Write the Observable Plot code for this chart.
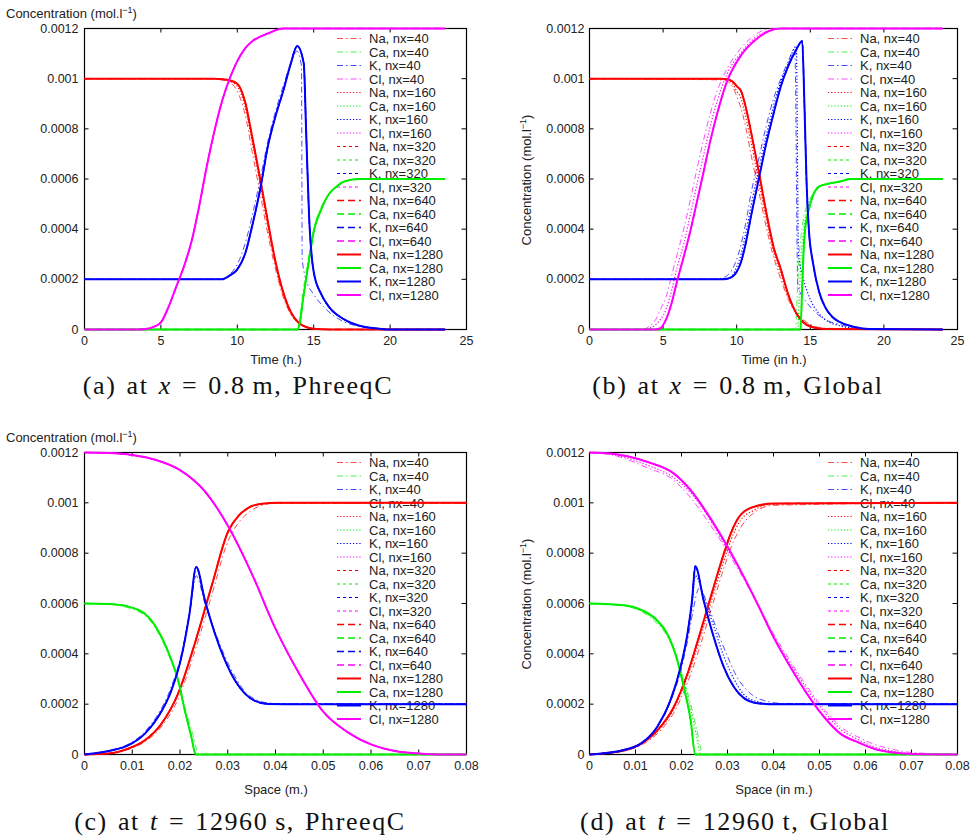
<!DOCTYPE html>
<html><head><meta charset="utf-8">
<script src="https://cdn.jsdelivr.net/npm/d3@7"></script>
<script src="https://cdn.jsdelivr.net/npm/@observablehq/plot@0.6"></script>
<style>
html,body{margin:0;padding:0;background:#fff;}
#wrap{position:relative;width:973px;height:837px;overflow:hidden;background:#fff;font-family:"Liberation Sans",Arial,sans-serif;color:#222;}
.pl{position:absolute;}
.lbl{position:absolute;font-size:13px;white-space:nowrap;transform:translate(-50%,-50%);}
.ylab{position:absolute;font-size:13px;white-space:nowrap;transform:translate(0,-50%);}
.rot{position:absolute;font-size:13px;white-space:nowrap;transform:translate(-50%,-50%) rotate(-90deg);}
sup{font-size:9px;vertical-align:5px;line-height:0;}
.cap{position:absolute;font-family:"Liberation Serif","Times New Roman",serif;font-size:26px;white-space:nowrap;transform:translate(-50%,-50%);letter-spacing:1.6px;word-spacing:2px;color:#111;}
</style></head><body><div id="wrap"></div>
<script>
// ---------- tick values / labels ----------
const yTicks = [0, 0.0002, 0.0004, 0.0006, 0.0008, 0.001, 0.0012];
const yTickLabels = ["0", "0.0002", "0.0004", "0.0006", "0.0008", "0.001", "0.0012"];
const timeTicks = [0, 5, 10, 15, 20, 25];
const timeTickLabels = ["0", "5", "10", "15", "20", "25"];
const spaceTicks = [0, 0.01, 0.02, 0.03, 0.04, 0.05, 0.06, 0.07, 0.08];
const spaceTickLabels = ["0", "0.01", "0.02", "0.03", "0.04", "0.05", "0.06", "0.07", "0.08"];

const species = ["Na", "Ca", "K", "Cl"];
const nxList = [40, 160, 320, 640, 1280];

// ---------- panel (a): time, PhreeqC ----------
const a_Na_x = [0,8.5,9,9.5,10,10.5,11,11.5,12,12.5,13,13.5,14,14.5,15,16,23.6];
const a_Na_1280 = [0.001,0.001,0.000998,0.000993,0.00098,0.00091,0.00076,0.0006,0.00043,0.00027,0.00015,0.00007,0.000028,0.00001,0.000003,0,0];
const a_Na_40 = [0.001,0.001,0.000995,0.000985,0.00095,0.00086,0.0007,0.00054,0.00038,0.00024,0.00013,0.00006,0.000025,0.000009,0.000003,0,0];
const a_Na_160 = [0.001,0.001,0.000997,0.00099,0.00097,0.00089,0.00074,0.00058,0.00041,0.00026,0.00014,0.000065,0.000026,0.00001,0.000003,0,0];
const a_Ca_x = [0,13.95,14.1,14.3,14.5,14.7,15,15.5,16,16.5,17,18,23.6];
const a_Ca_1280 = [0,0,0.00003,0.00012,0.0002,0.00028,0.00039,0.00048,0.00054,0.00057,0.00059,0.0006,0.0006];
const a_Ca_40 = [0,0,0.00005,0.00015,0.00023,0.0003,0.0004,0.00049,0.00054,0.00057,0.00059,0.0006,0.0006];
const a_K_x = [0,9,9.5,10,10.5,11,11.5,12,12.5,13,13.5,13.92,14.35,14.5,14.7,15,15.5,16,17,18,19,20,23.6];
const a_K_1280 = [0.0002,0.0002,0.000215,0.00024,0.0003,0.00042,0.00056,0.00073,0.00085,0.00095,0.00106,0.00113,0.00106,0.0008,0.00045,0.00023,0.00014,0.00009,0.00004,0.000015,0.000005,0,0];
const a_K40_x = [0,9,9.5,10,10.5,11,11.5,12,12.5,13,13.5,13.9,14.2,14.25,14.5,15,15.5,16,17,18,19,20,23.6];
const a_K_40 = [0.0002,0.0002,0.00022,0.00026,0.00034,0.00046,0.0006,0.00075,0.00087,0.00097,0.00106,0.00111,0.00105,0.00028,0.0002,0.00014,0.0001,0.00007,0.00003,0.000012,0.000004,0,0];
const a_Cl_x = [0,3.5,4,4.5,5,5.5,6,6.5,7,7.5,8,8.5,9,9.5,10,10.5,11,12,13,23.6];
const a_Cl_1280 = [0,0,0.000002,0.00001,0.000028,0.00009,0.00017,0.00025,0.00035,0.00049,0.00065,0.00079,0.00091,0.001,0.00107,0.00112,0.00115,0.00118,0.0012,0.0012];

// ---------- panel (b): time, Global ----------
const b_Na_x = [0,9,9.35,9.7,10,10.3,10.6,11,11.5,12,12.5,13,13.5,14,14.5,15,16,24];
const b_Na_1280 = [0.001,0.001,0.000998,0.00099,0.00097,0.00095,0.00089,0.00078,0.00063,0.00047,0.00033,0.00024,0.00014,0.00007,0.00003,0.000012,0.000002,0];
const b_Na_40 = [0.001,0.000995,0.00099,0.00097,0.00093,0.00088,0.00081,0.00069,0.00055,0.00041,0.00029,0.0002,0.00012,0.00007,0.00004,0.00002,0.000005,0];
const b_Na_160 = [0.001,0.000998,0.000995,0.00098,0.00095,0.00092,0.00085,0.00074,0.00059,0.00044,0.00031,0.00022,0.00013,0.00007,0.000035,0.000015,0.000003,0];
const b_Ca_x = [0,14.33,14.45,14.54,14.65,14.79,15,15.22,15.6,16.15,17,17.73,24];
const b_Ca_1280 = [0,0,0.00017,0.00031,0.0004,0.00045,0.0005,0.00054,0.00057,0.00058,0.00059,0.0006,0.0006];
const b_Ca40_x = [0,14.0,14.1,14.2,14.35,14.5,14.8,15.2,15.6,16.2,17,18,24];
const b_Ca_40 = [0,0,0.00012,0.00025,0.00036,0.00043,0.0005,0.00054,0.00057,0.00058,0.00059,0.0006,0.0006];
const b_Ca160_x = [0,14.15,14.25,14.35,14.5,14.65,14.9,15.2,15.6,16.2,17,18,24];
const b_Ca_160 = [0,0,0.00013,0.00027,0.00037,0.00044,0.0005,0.00054,0.00057,0.00058,0.00059,0.0006,0.0006];
const b_K_x = [0,9,9.35,9.7,10,10.3,10.6,11,11.5,12,12.5,13,13.5,14,14.45,14.6,14.75,14.9,15.2,15.6,16,16.5,17,18,19,24];
const b_K_1280 = [0.0002,0.0002,0.000202,0.00021,0.00023,0.00027,0.00034,0.00046,0.0006,0.00074,0.00086,0.00097,0.00105,0.00111,0.00115,0.0009,0.00058,0.0004,0.00026,0.00015,0.00009,0.00005,0.00003,0.00001,0.000002,0];
const b_K40_x = [0,8.5,9,9.35,9.7,10,10.3,10.6,11,11.5,12,12.5,13,13.5,13.95,14.15,14.3,14.6,15,15.5,16,17,18,19,20,24];
const b_K_40 = [0.0002,0.0002,0.000205,0.000215,0.00024,0.00028,0.00034,0.00042,0.00055,0.00068,0.00081,0.00092,0.001,0.00107,0.00112,0.00018,0.00015,0.00012,0.00009,0.00006,0.00004,0.00002,0.000008,0.000002,0,0];
const b_K160_x = [0,9,9.35,9.7,10,10.3,10.6,11,11.5,12,12.5,13,13.5,14.05,14.2,14.5,15,15.5,16,17,18,19,24];
const b_K_160 = [0.0002,0.0002,0.000203,0.000215,0.00025,0.0003,0.00038,0.0005,0.00064,0.00077,0.00089,0.00099,0.00106,0.00113,0.0003,0.00021,0.00012,0.00007,0.00004,0.000015,0.000005,0,0];
const b_Cl_x = [0,4,4.5,4.82,5.2,5.6,5.96,6.4,6.86,7.3,7.77,8.2,8.67,9.35,10.26,11.39,12.2,12.98,24];
const b_Cl_1280 = [0,0,0,0.000005,0.00004,0.00011,0.000195,0.00029,0.000395,0.00051,0.000634,0.00075,0.00086,0.00099,0.00109,0.00116,0.00119,0.0012,0.0012];
const b_Cl40_x = [0,3.6,4,4.5,4.82,5.2,5.6,5.96,6.4,6.86,7.3,7.77,8.2,8.67,9.35,10.26,11.39,12.2,12.98,24];
const b_Cl_40 = [0,0,0.00001,0.00004,0.00008,0.00013,0.00022,0.0003,0.0004,0.00052,0.00064,0.00076,0.00086,0.00095,0.00104,0.00112,0.00118,0.0012,0.0012,0.0012];
const b_Cl_160 = [0,0,0.000003,0.00002,0.00004,0.00008,0.00016,0.00025,0.00034,0.00046,0.00058,0.0007,0.00081,0.00091,0.00102,0.0011,0.00117,0.00119,0.0012,0.0012];

// ---------- panel (c): space, PhreeqC ----------
const c_Na_x = [0,0.005,0.0091,0.0126,0.0161,0.0196,0.0231,0.0266,0.0301,0.0322,0.0343,0.0371,0.0406,0.08];
const c_Na_1280 = [0,0.000004,0.000023,0.000056,0.000122,0.000242,0.000441,0.000668,0.000887,0.000947,0.00098,0.000996,0.001,0.001];
const c_Na_40 = [0,0.000004,0.00002,0.00005,0.00011,0.00022,0.00041,0.00063,0.00085,0.00092,0.00096,0.00099,0.001,0.001];
const c_Ca_x = [0,0.005,0.0091,0.0133,0.0161,0.0182,0.0196,0.021,0.0224,0.0233,0.08];
const c_Ca_1280 = [0.0006,0.000598,0.000588,0.000548,0.000468,0.000375,0.000295,0.000176,0.000069,0,0];
const c_Ca40_x = [0,0.005,0.0091,0.0133,0.0161,0.0182,0.0196,0.021,0.0224,0.0241,0.08];
const c_Ca_40 = [0.0006,0.000597,0.000583,0.00054,0.00046,0.00037,0.0003,0.00019,0.0001,0,0];
const c_K_x = [0,0.0056,0.0091,0.0126,0.0154,0.0182,0.0203,0.022,0.0234,0.0252,0.0273,0.0294,0.0315,0.0336,0.0357,0.0385,0.0441,0.08];
const c_K_1280 = [0,0.000016,0.000036,0.000082,0.000149,0.000255,0.000388,0.000561,0.000745,0.000614,0.000481,0.000375,0.000295,0.000242,0.000213,0.000201,0.0002,0.0002];
const c_K_40 = [0,0.000018,0.00004,0.00009,0.00016,0.00027,0.0004,0.00056,0.00071,0.0006,0.00049,0.00039,0.00031,0.00025,0.00022,0.000205,0.0002,0.0002];
const c_Cl_x = [0,0.005,0.01,0.015,0.02,0.025,0.03,0.035,0.04,0.045,0.05,0.055,0.06,0.065,0.07,0.075,0.08];
const c_Cl_1280 = [0.0012,0.001198,0.00119,0.00117,0.00113,0.00105,0.00091,0.00072,0.0005,0.00032,0.00017,0.00009,0.00004,0.000014,0.000004,0,0];

// ---------- panel (d): space, Global ----------
const d_Na_x = [0,0.0075,0.0111,0.0147,0.0183,0.0213,0.0242,0.027,0.0292,0.0307,0.0328,0.0357,0.04,0.08];
const d_Na_1280 = [0,0.000016,0.000042,0.000095,0.000188,0.000321,0.000493,0.000666,0.000798,0.000878,0.000951,0.000984,0.000997,0.001];
const d_Na_40 = [0,0.000014,0.000036,0.000082,0.000165,0.000285,0.00044,0.00061,0.00074,0.00082,0.0009,0.00096,0.00099,0.001];
const d_Na_160 = [0,0.000015,0.00004,0.00009,0.00018,0.00031,0.00047,0.00064,0.00077,0.00085,0.00093,0.00097,0.000995,0.001];
const d_Ca_x = [0,0.0075,0.0111,0.0147,0.0169,0.0191,0.0205,0.022,0.023,0.08];
const d_Ca_1280 = [0.0006,0.000593,0.000576,0.000533,0.00048,0.000374,0.000268,0.000135,0,0];
const d_Ca40_x = [0,0.0075,0.0111,0.0147,0.0169,0.0191,0.0205,0.022,0.0233,0.0247,0.08];
const d_Ca_40 = [0.0006,0.00059,0.00057,0.00052,0.00047,0.00038,0.0003,0.0002,0.0001,0,0];
const d_Ca160_x = [0,0.0075,0.0111,0.0147,0.0169,0.0191,0.0205,0.022,0.0232,0.0242,0.08];
const d_Ca_160 = [0.0006,0.000592,0.000573,0.000527,0.000475,0.000376,0.00029,0.00018,0.00008,0,0];
const d_K_x = [0,0.0075,0.0111,0.0147,0.0176,0.0198,0.0213,0.0223,0.023,0.0248,0.027,0.0292,0.0314,0.0335,0.0365,0.04,0.08];
const d_K_1280 = [0,0.000018,0.000042,0.000109,0.000215,0.000347,0.00048,0.000613,0.000748,0.000613,0.000467,0.000347,0.000268,0.000225,0.000204,0.0002,0.0002];
const d_K_160 = [0,0.00002,0.000045,0.00011,0.00022,0.00035,0.00048,0.0006,0.00071,0.00063,0.00051,0.00039,0.0003,0.00024,0.00021,0.000201,0.0002];
const d_K40_x = [0,0.0075,0.0111,0.0147,0.0176,0.0198,0.0213,0.0225,0.0238,0.026,0.028,0.03,0.032,0.034,0.037,0.042,0.08];
const d_K_40 = [0,0.00002,0.000045,0.00011,0.00021,0.00033,0.00045,0.00057,0.00066,0.00058,0.00048,0.00039,0.00031,0.00026,0.00022,0.000203,0.0002];
const d_Cl_x = [0,0.005,0.0125,0.0183,0.022,0.0256,0.0292,0.0328,0.0365,0.04,0.0437,0.0473,0.051,0.0546,0.0583,0.062,0.066,0.07,0.08];
const d_Cl_1280 = [0.0012,0.001195,0.001163,0.001117,0.00105,0.000958,0.000851,0.000732,0.000599,0.000467,0.000347,0.000241,0.000149,0.000082,0.000049,0.000022,0.000008,0.000002,0];
const d_Cl_40 = [0.0012,0.00119,0.00114,0.00109,0.00102,0.00093,0.00083,0.00072,0.0006,0.00048,0.00037,0.00027,0.00018,0.00011,0.00007,0.00004,0.00002,0.000008,0.000001];
const d_Cl_160 = [0.0012,0.001192,0.00115,0.0011,0.00104,0.00095,0.00084,0.00073,0.0006,0.00047,0.00036,0.00026,0.00017,0.0001,0.00006,0.00003,0.000013,0.000004,0];

// ---------- which arrays each curve uses ----------
function same(x, y) { return {40:[x,y],160:[x,y],320:[x,y],640:[x,y],1280:[x,y]}; }
const seriesA = {
  Na: {...same(a_Na_x, a_Na_1280), 40:[a_Na_x,a_Na_40], 160:[a_Na_x,a_Na_160]},
  Ca: {...same(a_Ca_x, a_Ca_1280), 40:[a_Ca_x,a_Ca_40]},
  K:  {...same(a_K_x, a_K_1280), 40:[a_K40_x,a_K_40]},
  Cl: same(a_Cl_x, a_Cl_1280)
};
const seriesB = {
  Na: {...same(b_Na_x, b_Na_1280), 40:[b_Na_x,b_Na_40], 160:[b_Na_x,b_Na_160]},
  Ca: {...same(b_Ca_x, b_Ca_1280), 40:[b_Ca40_x,b_Ca_40], 160:[b_Ca160_x,b_Ca_160]},
  K:  {...same(b_K_x, b_K_1280), 40:[b_K40_x,b_K_40], 160:[b_K160_x,b_K_160]},
  Cl: {...same(b_Cl_x, b_Cl_1280), 40:[b_Cl40_x,b_Cl_40], 160:[b_Cl40_x,b_Cl_160]}
};
const seriesC = {
  Na: {...same(c_Na_x, c_Na_1280), 40:[c_Na_x,c_Na_40]},
  Ca: {...same(c_Ca_x, c_Ca_1280), 40:[c_Ca40_x,c_Ca_40]},
  K:  {...same(c_K_x, c_K_1280), 40:[c_K_x,c_K_40]},
  Cl: same(c_Cl_x, c_Cl_1280)
};
const seriesD = {
  Na: {...same(d_Na_x, d_Na_1280), 40:[d_Na_x,d_Na_40], 160:[d_Na_x,d_Na_160]},
  Ca: {...same(d_Ca_x, d_Ca_1280), 40:[d_Ca40_x,d_Ca_40], 160:[d_Ca160_x,d_Ca_160]},
  K:  {...same(d_K_x, d_K_1280), 40:[d_K40_x,d_K_40], 160:[d_K_x,d_K_160]},
  Cl: {...same(d_Cl_x, d_Cl_1280), 40:[d_Cl_x,d_Cl_40], 160:[d_Cl_x,d_Cl_160]}
};

// ---------- styles ----------
const colors = {Na: "#ff0000", Ca: "#00ee00", K: "#0000ff", Cl: "#ff00ff"};
const dashes = {40: "6,3,1.5,3", 160: "1.2,2", 320: "3,3", 640: "7,4", 1280: undefined};
const widths = {40: 1, 160: 1.2, 320: 1.1, 640: 1.3, 1280: 2};
const opac = {40: 0.7, 160: 1, 320: 1, 640: 1, 1280: 1};

const panels = [
  {left: 0, top: 0, width: 480, height: 352, ml: 84, mr: 14, mt: 28, mb: 23, xDomain: [0, 25], xTicks: timeTicks, xLabels: timeTickLabels, yPad: 6, series: seriesA},
  {left: 500, top: 0, width: 470, height: 352, ml: 89, mr: 13, mt: 28, mb: 23, xDomain: [0, 25], xTicks: timeTicks, xLabels: timeTickLabels, yPad: 5, series: seriesB},
  {left: 0, top: 424, width: 480, height: 352, ml: 84, mr: 14, mt: 28, mb: 22, xDomain: [0, 0.08], xTicks: spaceTicks, xLabels: spaceTickLabels, yPad: 6, series: seriesC},
  {left: 500, top: 424, width: 470, height: 352, ml: 89, mr: 13, mt: 28, mb: 22, xDomain: [0, 0.08], xTicks: spaceTicks, xLabels: spaceTickLabels, yPad: 5, series: seriesD}
];

const wrap = document.getElementById("wrap");

for (const p of panels) {
  const fh = p.height - p.mt - p.mb;
  const fw = p.width - p.ml - p.mr;
  const marks = [
    Plot.frame({stroke: "#000", strokeWidth: 1.2}),
    Plot.tickX(p.xTicks, {x: d => d, insetTop: fh - 4.5, stroke: "#000"}),
    Plot.tickX(p.xTicks, {x: d => d, insetBottom: fh - 4.5, stroke: "#000"}),
    Plot.tickY(yTicks, {y: d => d, insetRight: fw - 4.5, stroke: "#000"}),
    Plot.tickY(yTicks, {y: d => d, insetLeft: fw - 4.5, stroke: "#000"}),
    Plot.axisX({ticks: p.xTicks, tickFormat: d => p.xLabels[p.xTicks.indexOf(d)], tickSize: 0, tickPadding: 7, label: null}),
    Plot.axisY({ticks: yTicks, tickFormat: d => yTickLabels[yTicks.indexOf(d)], tickSize: 0, tickPadding: p.yPad, label: null})
  ];
  for (const nx of nxList) {
    for (const sp of species) {
      const [xs, ys] = p.series[sp][nx];
      const rows = xs.map((x, i) => ({x, y: ys[i]}));
      const opts = {x: "x", y: "y", stroke: colors[sp], strokeWidth: widths[nx], strokeOpacity: opac[nx], curve: "monotone-x", strokeLinecap: "butt"};
      if (dashes[nx]) opts.strokeDasharray = dashes[nx];
      marks.push(Plot.line(rows, opts));
    }
  }
  const chart = Plot.plot({
    width: p.width, height: p.height,
    marginLeft: p.ml, marginRight: p.mr, marginTop: p.mt, marginBottom: p.mb,
    x: {domain: p.xDomain},
    y: {domain: [0, 0.0012]},
    style: {fontFamily: "'Liberation Sans', Arial, sans-serif", fontSize: "12.5px", color: "#222", background: "transparent", overflow: "visible"},
    marks
  });
  chart.classList.add("pl");
  chart.style.left = p.left + "px";
  chart.style.top = p.top + "px";
  chart.style.position = "absolute";

  // legend (drawn beneath the curves, as in the original)
  const svg = d3.select(chart);
  const g = svg.insert("g", "g").attr("class", "key").attr("text-anchor", "start");
  const x0 = p.width - p.mr - 129;
  let row = 0;
  for (const nx of nxList) {
    for (const sp of species) {
      const yy = p.mt + 10.5 + row * 13.5;
      const ln = g.append("line").attr("x1", x0).attr("x2", x0 + 24).attr("y1", yy).attr("y2", yy)
        .attr("stroke", colors[sp]).attr("stroke-width", widths[nx]).attr("stroke-opacity", opac[nx]);
      if (dashes[nx]) ln.attr("stroke-dasharray", dashes[nx]);
      g.append("text").attr("x", x0 + 32).attr("y", yy).attr("dy", "0.36em")
        .attr("text-anchor", "start")
        .attr("font-size", 13).attr("fill", "#222").text(`${sp}, nx=${nx}`);
      row++;
    }
  }
  wrap.appendChild(chart);
}

function addDiv(cls, html, x, y) {
  const d = document.createElement("div");
  d.className = cls;
  d.innerHTML = html;
  d.style.left = x + "px";
  d.style.top = y + "px";
  wrap.appendChild(d);
}
const conc = "Concentration (mol.l<sup>&minus;1</sup>)";
addDiv("ylab", conc, 6, 13);
addDiv("ylab", conc, 6, 437);
addDiv("rot", conc, 526, 180);
addDiv("rot", conc, 526, 604);
addDiv("lbl", "Time (h.)", 276, 359);
addDiv("lbl", "Time (in h.)", 774, 359);
addDiv("lbl", "Space (m.)", 276, 789);
addDiv("lbl", "Space (in m.)", 774, 789);
addDiv("cap", "(a) at <i>x</i> = 0.8&#8201;m, PhreeqC", 238, 386);
addDiv("cap", "(b) at <i>x</i> = 0.8&#8201;m, Global", 738, 386);
addDiv("cap", "(c) at <i>t</i> = 12960&#8201;s, PhreeqC", 240, 822);
addDiv("cap", "(d) at <i>t</i> = 12960&#8201;t, Global", 735, 822);
</script></body></html>
